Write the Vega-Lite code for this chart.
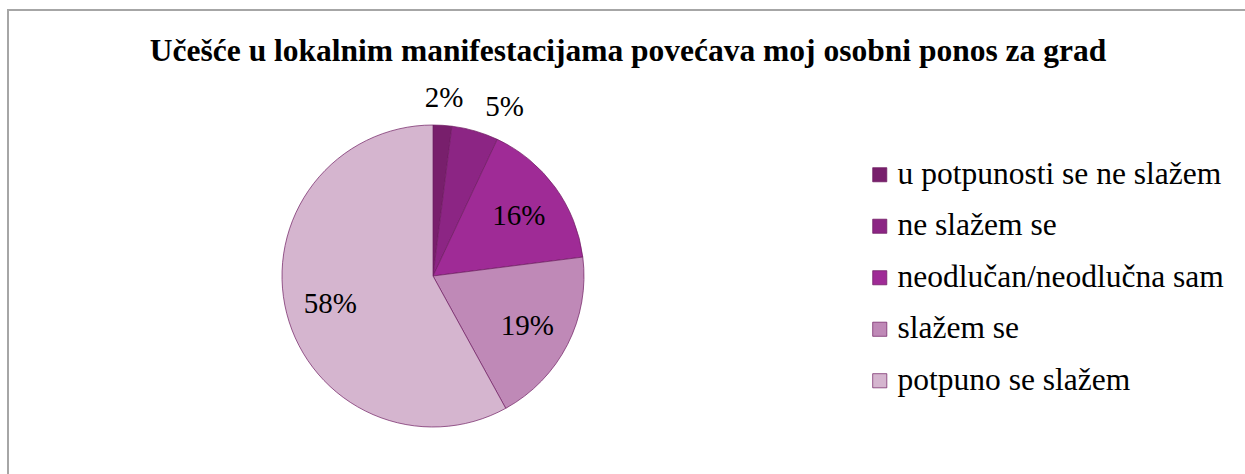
{
  "$schema": "https://vega.github.io/schema/vega-lite/v6.json",
  "width": 1240,
  "height": 470,
  "autosize": {"type": "none"},
  "padding": {"left": 8, "top": 10, "right": 0, "bottom": 0},
  "background": "white",
  "config": {
    "view": {"stroke": "#A6A6A6", "strokeWidth": 2},
    "font": "Liberation Serif",
    "title": {"font": "Liberation Serif"},
    "legend": {"labelFont": "Liberation Serif"},
    "text": {"font": "Liberation Serif"}
  },
  "title": {
    "text": "Učešće u lokalnim manifestacijama povećava moj osobni ponos za grad",
    "font": "Liberation Serif",
    "fontSize": 31.5,
    "fontWeight": "bold",
    "color": "#000000",
    "anchor": "middle",
    "orient": "top",
    "offset": -57
  },
  "data": {
    "values": [
      {"kategorija": "u potpunosti se ne slažem", "postotak": 2, "oznaka": "2%", "red": 1},
      {"kategorija": "ne slažem se", "postotak": 5, "oznaka": "5%", "red": 2},
      {"kategorija": "neodlučan/neodlučna sam", "postotak": 16, "oznaka": "16%", "red": 3},
      {"kategorija": "slažem se", "postotak": 19, "oznaka": "19%", "red": 4},
      {"kategorija": "potpuno se slažem", "postotak": 58, "oznaka": "58%", "red": 5}
    ]
  },
  "encoding": {
    "theta": {"field": "postotak", "type": "quantitative", "stack": true},
    "order": {"field": "red", "type": "quantitative"},
    "x": {"value": 425},
    "y": {"value": 266}
  },
  "layer": [
    {
      "mark": {"type": "arc", "outerRadius": 151, "stroke": "#6E1C62", "strokeWidth": 0.7},
      "encoding": {
        "color": {
          "field": "kategorija",
          "type": "nominal",
          "scale": {
            "domain": ["u potpunosti se ne slažem", "ne slažem se", "neodlučan/neodlučna sam", "slažem se", "potpuno se slažem"],
            "range": ["#781F6C", "#8C2584", "#9F2B96", "#BF89B7", "#D5B5CF"]
          },
          "legend": {
            "title": null,
            "orient": "none",
            "legendX": 856,
            "legendY": 149,
            "symbolType": "square",
            "symbolSize": 200,
            "symbolStrokeColor": "#6E1C62",
            "symbolStrokeWidth": 0.7,
            "labelFont": "Liberation Serif",
            "labelFontSize": 31.5,
            "labelColor": "#000000",
            "labelOffset": 2,
            "rowPadding": 18.5,
            "labelLimit": 500
          }
        }
      }
    },
    {
      "mark": {"type": "text", "radius": 106, "dy": 2, "font": "Liberation Serif", "fontSize": 29, "color": "#000000"},
      "encoding": {
        "text": {"condition": {"test": "datum.postotak >= 10", "field": "oznaka"}, "value": ""}
      }
    },
    {
      "mark": {"type": "text", "radius": 178, "font": "Liberation Serif", "fontSize": 29, "color": "#000000"},
      "encoding": {
        "text": {"condition": {"test": "datum.red == 1", "field": "oznaka"}, "value": ""}
      }
    },
    {
      "mark": {"type": "text", "radius": 178, "dx": 22, "dy": 2, "font": "Liberation Serif", "fontSize": 29, "color": "#000000"},
      "encoding": {
        "text": {"condition": {"test": "datum.red == 2", "field": "oznaka"}, "value": ""}
      }
    }
  ]
}
